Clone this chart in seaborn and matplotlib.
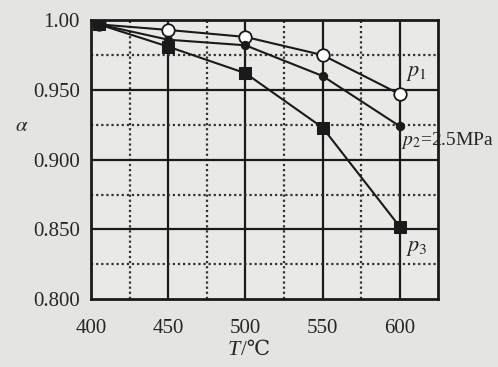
import pandas as pd
import numpy as np
import matplotlib
matplotlib.use("Agg")
import matplotlib.pyplot as plt
import seaborn as sns
from matplotlib.ticker import FixedLocator, FixedFormatter

temps = [405, 450, 500, 550, 600]
p1 = [0.997, 0.993, 0.988, 0.975, 0.947]
p2 = [0.997, 0.986, 0.982, 0.960, 0.924]
p3 = [0.997, 0.981, 0.962, 0.923, 0.852]

x_ticks = [400, 450, 500, 550, 600]
y_ticks = [0.800, 0.850, 0.900, 0.950, 1.00]
y_labels = ['0.800', '0.850', '0.900', '0.950', '1.00']

sns.set_style('white')
plt.rcParams['font.family'] = ['Liberation Serif', 'DejaVu Serif', 'DejaVu Sans']
plt.rcParams['mathtext.fontset'] = 'stix'

fig = plt.figure(figsize=(4.98, 3.67), dpi=100, facecolor='#e4e4e2')
ax = fig.add_axes([0.183, 0.185, 0.697, 0.76])
ax.set_facecolor('#e9e9e7')

# grid: solid on major, dotted on minor
for x in [450, 500, 550, 600]:
    ax.axvline(x, color='#1a1a1a', lw=1.6, zorder=1)
for x in [425, 475, 525, 575]:
    ax.axvline(x, color='#333333', lw=1.6, ls=(0, (1.0, 1.3)), zorder=1)
for y in [0.850, 0.900, 0.950]:
    ax.axhline(y, color='#1a1a1a', lw=1.6, zorder=1)
for y in [0.825, 0.875, 0.925, 0.975]:
    ax.axhline(y, color='#333333', lw=1.6, ls=(0, (1.0, 1.3)), zorder=1)

df = pd.DataFrame({'T': temps, 'p1': p1, 'p2': p2, 'p3': p3})
sns.lineplot(data=df, x='T', y='p1', ax=ax, color='#1a1a1a', lw=1.5,
             marker='o', markersize=9, markerfacecolor='white',
             markeredgecolor='#1a1a1a', markeredgewidth=1.3, zorder=3)
sns.lineplot(data=df, x='T', y='p2', ax=ax, color='#1a1a1a', lw=1.5,
             marker='o', markersize=6, markerfacecolor='#1a1a1a',
             markeredgecolor='#1a1a1a', zorder=3)
sns.lineplot(data=df, x='T', y='p3', ax=ax, color='#1a1a1a', lw=1.5,
             marker='s', markersize=9, markerfacecolor='#1a1a1a',
             markeredgecolor='#1a1a1a', zorder=4)

ax.set_xlim(400, 625)
ax.set_ylim(0.800, 1.00)
ax.xaxis.set_major_locator(FixedLocator(x_ticks))
ax.yaxis.set_major_locator(FixedLocator(y_ticks))
ax.yaxis.set_major_formatter(FixedFormatter(y_labels))
ax.tick_params(length=0, labelsize=15, pad=14)
ax.tick_params(axis='y', pad=8)
for s in ax.spines.values():
    s.set_visible(True)
    s.set_color('#1a1a1a')
    s.set_linewidth(2)

ax.set_xlabel('')
ax.set_ylabel('')
# x label: italic T, then /℃ (plain text so the glyph falls back)
fig.text(0.482, 0.045, 'T', fontsize=16, style='italic', ha='right', va='center')
fig.text(0.484, 0.045, '/℃', fontsize=15, ha='left', va='center')
fig.text(0.03, 0.655, r'$\alpha$', fontsize=15, ha='left', va='center')

ax.text(604, 0.955, '$p_1$', fontsize=16, ha='left', va='bottom')
ax.text(601, 0.921, '$p_2$=2.5MPa', fontsize=14, ha='left', va='top')
ax.text(604, 0.843, '$p_3$', fontsize=16, ha='left', va='top')

fig.savefig('out.png', dpi=100, facecolor=fig.get_facecolor())
